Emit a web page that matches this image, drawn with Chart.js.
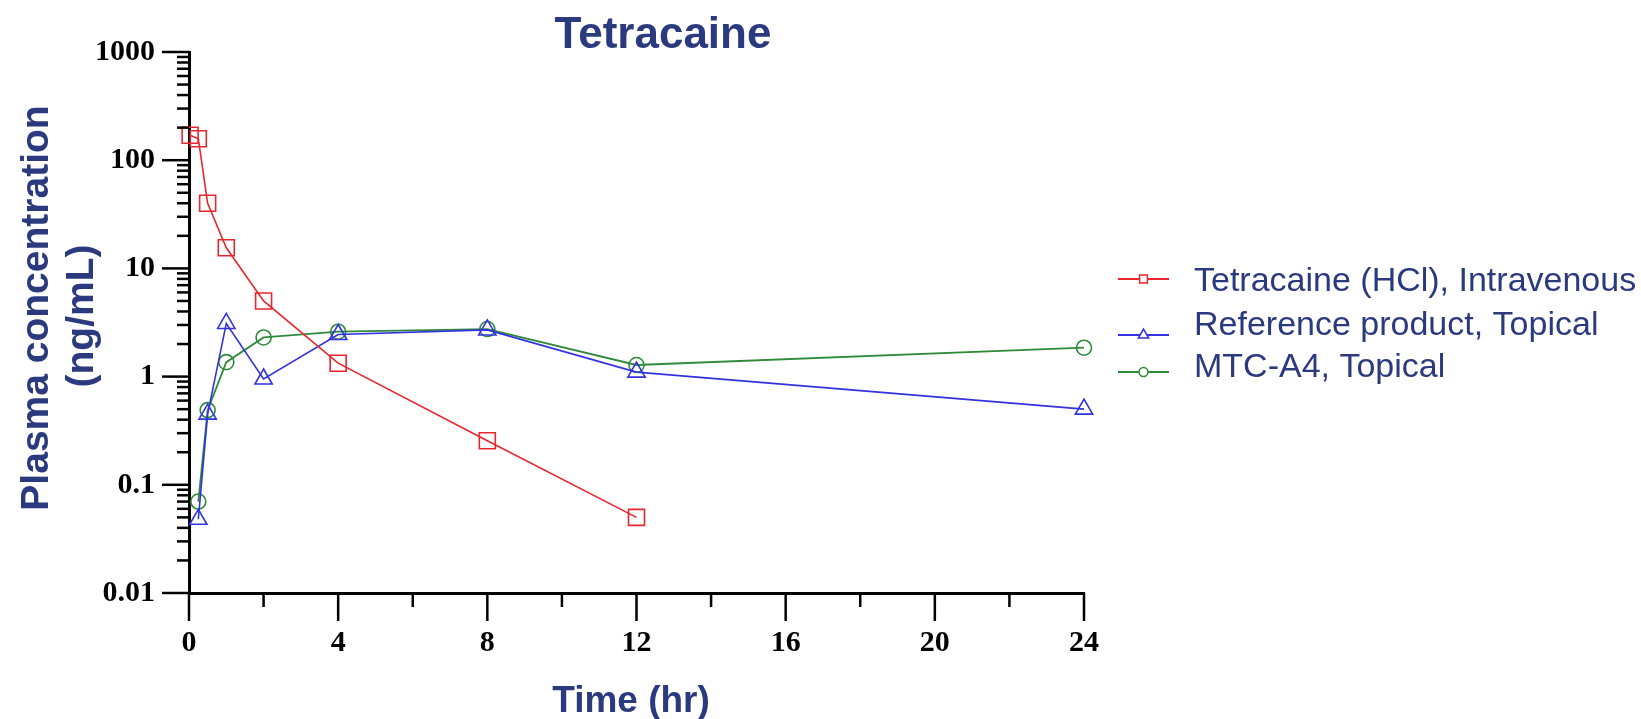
<!DOCTYPE html>
<html>
<head>
<meta charset="utf-8">
<script src="https://cdn.jsdelivr.net/npm/chart.js@4/dist/chart.umd.min.js"></script>
<style>
  html, body { margin: 0; padding: 0; background: #ffffff; }
  #wrap { width: 1641px; height: 719px; }
</style>
</head>
<body>
<div id="wrap"><canvas id="c" width="1641" height="719"></canvas></div>
<script>
// ---- data ----
const chartTitle = 'Tetracaine';
const seriesLabels = ['Tetracaine (HCl), Intravenous', 'Reference product, Topical', 'MTC-A4, Topical'];
const ivTimes = [0.03, 0.25, 0.5, 1, 2, 4, 8, 12];
const ivConc = [170, 158, 40, 15.5, 5.0, 1.33, 0.255, 0.05];
const topicalTimes = [0.25, 0.5, 1, 2, 4, 8, 12, 24];
const referenceConc = [0.048, 0.45, 3.1, 0.95, 2.45, 2.7, 1.1, 0.5];
const mtcConc = [0.07, 0.49, 1.36, 2.3, 2.6, 2.75, 1.28, 1.85];
const xTickLabels = ['0', '4', '8', '12', '16', '20', '24'];
const yTickLabels = ['0.01', '0.1', '1', '10', '100', '1000'];
const xTitle = 'Time (hr)';
const yTitle = ['Plasma concentration', '(ng/mL)'];

const NAVY = '#2b3a7e';
const RED = '#e8262e';
const BLUE = '#3232e0';
const GREEN = '#2f8a3a';

function pts(xs, ys) { return xs.map((x, i) => ({ x: x, y: ys[i] })); }

function drawMarker(ctx, style, x, y, r, color) {
  ctx.save();
  ctx.strokeStyle = color;
  ctx.lineWidth = 1.5;
  ctx.beginPath();
  if (style === 'rect') {
    const s = r * Math.SQRT1_2;
    ctx.rect(x - s, y - s, 2 * s, 2 * s);
  } else if (style === 'triangle') {
    ctx.moveTo(x, y - r);
    ctx.lineTo(x + r * Math.sin(Math.PI / 3), y + r / 2);
    ctx.lineTo(x - r * Math.sin(Math.PI / 3), y + r / 2);
    ctx.closePath();
  } else {
    ctx.arc(x, y, r, 0, Math.PI * 2);
  }
  ctx.fillStyle = '#ffffff';
  ctx.fill();
  ctx.stroke();
  ctx.restore();
}

const decorPlugin = {
  id: 'decor',
  afterDraw(chart) {
    const ctx = chart.ctx;
    const xs = chart.scales.x, ys = chart.scales.y;
    const area = chart.chartArea;
    ctx.save();
    ctx.strokeStyle = '#000';
    ctx.lineWidth = 2.5;
    // y ticks
    ys.ticks.forEach(t => {
      const p = ys.getPixelForValue(t.value);
      const lg = Math.log10(t.value);
      const major = Math.abs(lg - Math.round(lg)) < 1e-9;
      const len = major ? 27 : 12;
      ctx.beginPath();
      ctx.moveTo(area.left - len, p);
      ctx.lineTo(area.left, p);
      ctx.stroke();
    });
    // x ticks
    xs.ticks.forEach(t => {
      const p = xs.getPixelForValue(t.value);
      const major = t.value % 4 === 0;
      const len = major ? 28 : 14;
      ctx.beginPath();
      ctx.moveTo(p, area.bottom);
      ctx.lineTo(p, area.bottom + len);
      ctx.stroke();
    });
    // chart title
    ctx.fillStyle = NAVY;
    ctx.textAlign = 'center';
    ctx.textBaseline = 'middle';
    ctx.font = 'bold 44px "Liberation Sans", Arial, sans-serif';
    ctx.fillText(chartTitle, 663, 36);
    // axis titles
    ctx.font = 'bold 37px "Liberation Sans", Arial, sans-serif';
    ctx.fillText(xTitle, 631, 702);
    ctx.font = 'bold 39px "Liberation Sans", Arial, sans-serif';
    const yPos = [[37, 308], [82, 316]];
    yTitle.forEach((line, i) => {
      ctx.save();
      ctx.translate(yPos[i][0], yPos[i][1]);
      ctx.rotate(-Math.PI / 2);
      ctx.fillText(line, 0, 0);
      ctx.restore();
    });
    // legend
    const textY = [282, 326, 368];
    const sampleY = [279, 335, 372];
    chart.data.datasets.forEach((ds, i) => {
      const sy = sampleY[i];
      ctx.strokeStyle = ds.borderColor;
      ctx.lineWidth = 2;
      ctx.beginPath();
      ctx.moveTo(1118, sy);
      ctx.lineTo(1169, sy);
      ctx.stroke();
      drawMarker(ctx, ds.pointStyle, 1143.5, sy, ds.pointStyle === 'rect' ? 5.5 : (ds.pointStyle === 'triangle' ? 6 : 4.5), ds.pointBorderColor);
      ctx.fillStyle = NAVY;
      ctx.font = '34px "Liberation Sans", Arial, sans-serif';
      ctx.textAlign = 'left';
      ctx.textBaseline = 'middle';
      ctx.fillText(ds.label, 1194, textY[i]);
    });
    ctx.restore();
  }
};

const tickFont = { family: '"Liberation Serif", "Times New Roman", serif', size: 30, weight: 'bold' };

new Chart(document.getElementById('c'), {
  type: 'line',
  data: {
    datasets: [
      {
        label: seriesLabels[0], data: pts(ivTimes, ivConc),
        borderColor: RED, pointBorderColor: RED, pointBackgroundColor: 'rgba(0,0,0,0)',
        pointStyle: 'rect', pointRadius: 11.3, pointBorderWidth: 1.6, borderWidth: 1.6, clip: false
      },
      {
        label: seriesLabels[1], data: pts(topicalTimes, referenceConc),
        borderColor: BLUE, pointBorderColor: BLUE, pointBackgroundColor: 'rgba(0,0,0,0)',
        pointStyle: 'triangle', pointRadius: 10, pointBorderWidth: 1.6, borderWidth: 1.6, clip: false
      },
      {
        label: seriesLabels[2], data: pts(topicalTimes, mtcConc),
        borderColor: GREEN, pointBorderColor: GREEN, pointBackgroundColor: 'rgba(0,0,0,0)',
        pointStyle: 'circle', pointRadius: 7.5, pointBorderWidth: 1.6, borderWidth: 1.8, clip: false
      }
    ]
  },
  options: {
    responsive: false,
    animation: false,
    devicePixelRatio: 1,
    layout: { padding: { top: 48, right: 557, bottom: 0, left: 0 } },
    plugins: { legend: { display: false }, title: { display: false }, tooltip: { enabled: false } },
    scales: {
      x: {
        type: 'linear', min: 0, max: 24,
        afterBuildTicks: (s) => { const t = []; for (let v = 0; v <= 24; v += 2) t.push({ value: v }); s.ticks = t; },
        afterFit: (s) => { s.height = 126; },
        ticks: {
          autoSkip: false, maxRotation: 0, padding: 32, color: '#000', font: tickFont,
          callback: (v) => (v % 4 === 0 ? xTickLabels[v / 4] : '')
        },
        grid: { display: false, drawTicks: false },
        border: { display: true, color: '#000', width: 3 },
        title: { display: false }
      },
      y: {
        type: 'logarithmic', min: 0.01, max: 1000,
        afterBuildTicks: (s) => {
          const t = [];
          for (let e = -2; e <= 2; e++) {
            for (let k = 1; k <= 9; k++) t.push({ value: Number((k * Math.pow(10, e)).toPrecision(3)) });
          }
          t.push({ value: 1000 });
          s.ticks = t;
        },
        afterFit: (s) => { s.width = 189; },
        ticks: {
          autoSkip: false, padding: 34, color: '#000', font: tickFont,
          callback: (v) => {
            const lg = Math.log10(v);
            return Math.abs(lg - Math.round(lg)) < 1e-9 ? yTickLabels[Math.round(lg) + 2] : '';
          }
        },
        grid: { display: false, drawTicks: false },
        border: { display: true, color: '#000', width: 3 },
        title: { display: false }
      }
    }
  },
  plugins: [decorPlugin]
});
</script>
</body>
</html>
